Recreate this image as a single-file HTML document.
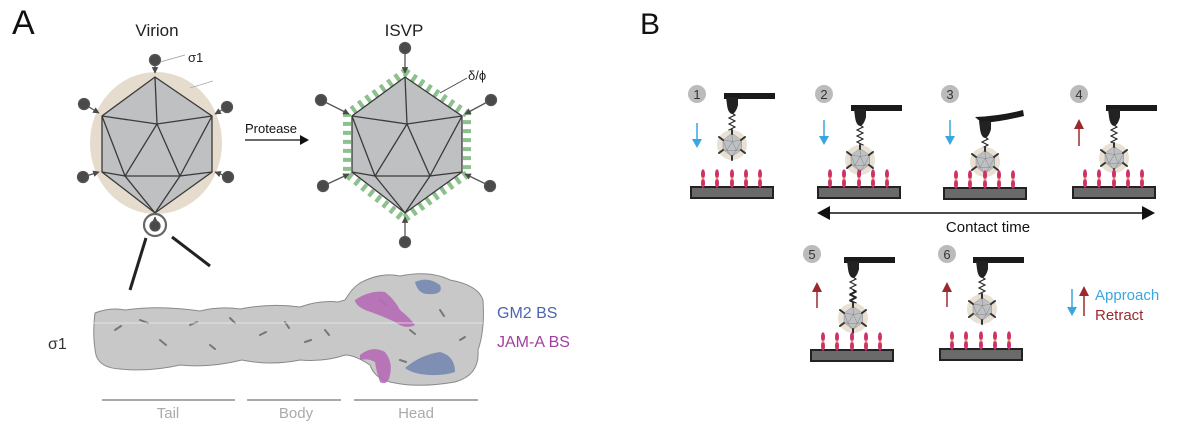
<!DOCTYPE html>
<html><head><meta charset="utf-8"><style>
html,body{margin:0;padding:0;background:#fff}
svg{display:block}
text{font-family:"Liberation Sans",sans-serif}
</style></head><body>
<svg width="1196" height="426" viewBox="0 0 1196 426" xmlns="http://www.w3.org/2000/svg">
<defs>
<marker id="ah" viewBox="0 0 10 10" refX="9" refY="5" markerWidth="5" markerHeight="5" orient="auto"><path d="M0,0L10,5L0,10z" fill="#4a4a4a"/></marker>
<g id="ico">
<polygon points="0,-68 57,-29 57,27 0,68 -53,27 -53,-29" fill="#bfc0c2" stroke="#3a3a3a" stroke-width="1.3"/>
<g stroke="#3a3a3a" stroke-width="1.3" fill="none">
<path d="M0,-68L2,-21M-53,-29L2,-21L57,-29M2,-21L-30,31L25,31L2,-21M-53,-29L-30,31M57,-29L25,31M-53,27L-30,31L0,68L25,31L57,27"/>
</g>
</g>
<g id="spikes">
<g stroke="#555" stroke-width="1.3" fill="#4a4a4a">
<line x1="0" y1="-97" x2="0" y2="-72" marker-end="url(#ah)"/>
<line x1="-84" y1="-45" x2="-56" y2="-31" marker-end="url(#ah)"/>
<line x1="86" y1="-45" x2="60" y2="-31" marker-end="url(#ah)"/>
<line x1="-82" y1="41" x2="-56" y2="29" marker-end="url(#ah)"/>
<line x1="85" y1="41" x2="60" y2="29" marker-end="url(#ah)"/>
<line x1="0" y1="97" x2="0" y2="72" marker-end="url(#ah)"/>
<circle cx="0" cy="-97" r="5.5"/><circle cx="-84" cy="-45" r="5.5"/><circle cx="86" cy="-45" r="5.5"/>
<circle cx="-82" cy="41" r="5.5"/><circle cx="85" cy="41" r="5.5"/><circle cx="0" cy="97" r="5.5"/>
</g>
</g>
<g id="vspikes">
<g stroke="#555" stroke-width="1.3" fill="#4a4a4a">
<line x1="0" y1="-85" x2="0" y2="-72" marker-end="url(#ah)"/>
<line x1="-71" y1="-41" x2="-56" y2="-32" marker-end="url(#ah)"/>
<line x1="72" y1="-38" x2="60" y2="-31" marker-end="url(#ah)"/>
<line x1="-72" y1="32" x2="-56" y2="27" marker-end="url(#ah)"/>
<line x1="73" y1="32" x2="60" y2="27" marker-end="url(#ah)"/>
<line x1="0" y1="81" x2="0" y2="72" marker-end="url(#ah)"/>
<circle cx="0" cy="-85" r="5.5"/><circle cx="-71" cy="-41" r="5.5"/><circle cx="72" cy="-38" r="5.5"/>
<circle cx="-72" cy="32" r="5.5"/><circle cx="73" cy="32" r="5.5"/><circle cx="0" cy="81" r="5"/>
</g>
</g>
<g id="sv">
<circle r="15" fill="#e8e0d2"/>
<g transform="scale(0.17)"><use href="#ico"/></g>
<g stroke="#333" stroke-width="2" stroke-linecap="round">
<path d="M0,-11L0,-15M9,-5L13,-8M9,5L13,8M-9,-5L-13,-8M-9,5L-13,8M0,11L0,15"/>
</g>
</g>
<g id="rec">
<ellipse cx="0" cy="4" rx="2" ry="4.8" fill="#d0306a"/>
<ellipse cx="0" cy="13" rx="2" ry="4.8" fill="#d0306a"/>
<circle cx="0" cy="8.5" r="1.2" fill="#e89a50"/>
</g>
<g id="surf">
<rect x="0" y="0" width="82" height="11" fill="#6a6a6a" stroke="#222" stroke-width="2"/>
<use href="#rec" x="12" y="-17"/><use href="#rec" x="26" y="-17"/><use href="#rec" x="41" y="-17"/><use href="#rec" x="55" y="-17"/><use href="#rec" x="69" y="-17"/>
</g>
<g id="tip">
<path d="M-6,0 L6,0 L6,8 Q4,16 0,17 Q-4,16 -5,8Z" fill="#222"/>
</g>
<g id="spring"><path d="M0,0 l3,2 l-6,3 l6,3 l-6,3 l6,3 l-6,3 l6,3 l-6,3 l6,3 l-6,3 l3,2" fill="none" stroke="#222" stroke-width="1.1"/></g>
</defs>

<!-- Panel A -->
<text x="12" y="34" font-size="34" fill="#111">A</text>
<text x="157" y="36" font-size="17" text-anchor="middle" fill="#222">Virion</text>
<text x="404" y="36" font-size="17" text-anchor="middle" fill="#222">ISVP</text>

<ellipse cx="156" cy="143" rx="66" ry="71" fill="#e5dccd"/>
<g transform="translate(155,145)"><use href="#ico"/><use href="#vspikes"/></g>
<circle cx="155" cy="225" r="11" fill="none" stroke="#666" stroke-width="2.2"/>
<line x1="146" y1="238" x2="130" y2="290" stroke="#222" stroke-width="3"/>
<line x1="172" y1="237" x2="210" y2="266" stroke="#222" stroke-width="3"/>
<line x1="160" y1="62" x2="185" y2="55" stroke="#999" stroke-width="0.8"/>
<line x1="190" y1="88" x2="213" y2="81" stroke="#aaa" stroke-width="0.8"/>
<text x="188" y="62" font-size="13" fill="#222">σ1</text>

<text x="245" y="133" font-size="13" fill="#111">Protease</text>
<line x1="245" y1="140" x2="302" y2="140" stroke="#111" stroke-width="1.2"/>
<path d="M300,135L309,140L300,145z" fill="#111"/>

<polygon points="405,72 467,114 467,174 404,219 347,174 347,114" fill="none" stroke="#8cc08c" stroke-width="8" stroke-dasharray="4 5"/>
<g transform="translate(405,145)"><use href="#ico"/><use href="#spikes"/></g>
<line x1="440" y1="93" x2="467" y2="78" stroke="#444" stroke-width="0.9"/>
<text x="468" y="80" font-size="13" fill="#222">δ/ϕ</text>

<!-- sigma1 protein -->
<g fill="#c8c8c8" stroke="#8a8a8a" stroke-width="1">
<path d="M95,313 Q110,307 125,310 Q160,305 200,311 Q220,306 240,309 Q270,303 300,307 Q320,300 338,302 L345,300 Q352,288 360,283 Q380,272 400,276 Q430,270 450,280 Q478,285 483,300 Q485,330 478,350 Q480,375 455,382 Q420,388 395,383 Q375,380 370,365 Q355,355 345,355 Q325,362 300,360 Q270,366 242,360 Q210,368 180,365 Q150,372 120,369 Q100,368 96,355 Q92,335 95,313Z"/>
</g>
<g stroke="#777" stroke-width="2" stroke-linecap="round" fill="none">
<path d="M115,330l6,-4M140,320l8,3M160,340l6,5M190,325l7,-3M210,345l5,4M230,318l5,5M260,335l6,-3M285,322l4,6M305,342l6,-2M325,330l4,5M380,300l6,5M410,330l5,4M440,310l4,6M460,340l5,-3M400,360l6,2"/>
</g>
<path d="M355,300 Q370,290 385,292 Q395,300 400,310 Q410,318 415,325 Q405,330 395,322 Q380,315 365,310 Q355,305 355,300Z" fill="#b56ab5" opacity="0.9"/>
<path d="M360,355 Q372,345 385,352 Q393,362 390,375 Q388,386 380,382 Q376,370 375,362 Q368,358 360,360Z" fill="#b56ab5" opacity="0.9"/>
<path d="M415,282 Q428,276 440,285 Q444,295 428,294 Q418,294 415,282Z" fill="#7f8fb3"/>
<path d="M405,368 Q420,355 440,352 Q455,356 455,372 Q440,377 420,374 Q410,372 405,368Z" fill="#7f8fb3"/>
<line x1="92" y1="323" x2="483" y2="323" stroke="#eee" stroke-width="0.8"/>

<text x="48" y="349" font-size="16" fill="#333">σ1</text>
<text x="497" y="318" font-size="16" fill="#4a66b0">GM2 BS</text>
<text x="497" y="347" font-size="16" fill="#a040a0">JAM-A BS</text>
<g stroke="#aaa" stroke-width="2">
<line x1="102" y1="400" x2="235" y2="400"/><line x1="247" y1="400" x2="341" y2="400"/><line x1="354" y1="400" x2="478" y2="400"/>
</g>
<g font-size="15" fill="#aaa" text-anchor="middle">
<text x="168" y="418">Tail</text><text x="296" y="418">Body</text><text x="416" y="418">Head</text>
</g>

<!-- Panel B -->
<text x="640" y="34" font-size="30" fill="#111">B</text>
<g font-size="13" text-anchor="middle" fill="#333">
<circle cx="697" cy="94" r="9" fill="#bbb"/><text x="697" y="99">1</text>
<circle cx="824" cy="94" r="9" fill="#bbb"/><text x="824" y="99">2</text>
<circle cx="950" cy="94" r="9" fill="#bbb"/><text x="950" y="99">3</text>
<circle cx="1079" cy="94" r="9" fill="#bbb"/><text x="1079" y="99">4</text>
<circle cx="812" cy="254" r="9" fill="#bbb"/><text x="812" y="259">5</text>
<circle cx="947" cy="254" r="9" fill="#bbb"/><text x="947" y="259">6</text>
</g>
<!-- step1 -->
<rect x="724" y="93" width="51" height="6" fill="#1a1a1a"/>
<use href="#tip" x="732" y="97"/><use href="#spring" x="732" y="113"/>
<use href="#sv" x="732" y="145"/>
<use href="#surf" x="691" y="187"/>
<!-- step2 -->
<rect x="851" y="105" width="51" height="6" fill="#1a1a1a"/>
<use href="#tip" x="860" y="109"/><use href="#spring" x="860" y="125"/>
<use href="#sv" x="860" y="160"/>
<use href="#surf" x="818" y="187"/>
<!-- step3 -->
<path d="M975,117 Q1000,116 1023,110 L1024,116 Q1000,122 982,123 Z" fill="#1a1a1a"/>
<use href="#tip" x="985" y="121"/><use href="#spring" x="985" y="137"/>
<use href="#sv" x="985" y="162"/>
<use href="#surf" x="944" y="188"/>
<!-- step4 -->
<rect x="1106" y="105" width="51" height="6" fill="#1a1a1a"/>
<use href="#tip" x="1114" y="109"/><use href="#spring" x="1114" y="125"/>
<use href="#sv" x="1114" y="158"/>
<use href="#surf" x="1073" y="187"/>
<!-- contact -->
<line x1="826" y1="213" x2="1146" y2="213" stroke="#111" stroke-width="1.5"/>
<path d="M817,213L830,206L830,220z" fill="#111"/><path d="M1155,213L1142,206L1142,220z" fill="#111"/>
<text x="988" y="232" font-size="15" text-anchor="middle" fill="#111">Contact time</text>
<!-- step5 -->
<rect x="844" y="257" width="51" height="6" fill="#1a1a1a"/>
<use href="#tip" x="853" y="261"/><use href="#spring" x="853" y="277"/><use href="#spring" x="853" y="290"/>
<use href="#sv" x="853" y="318"/>
<use href="#surf" x="811" y="350"/>
<!-- step6 -->
<rect x="973" y="257" width="51" height="6" fill="#1a1a1a"/>
<use href="#tip" x="982" y="261"/><use href="#spring" x="982" y="277"/>
<use href="#sv" x="982" y="309"/>
<use href="#surf" x="940" y="349"/>
<!-- arrows -->
<g stroke="#3aa6e0" stroke-width="1.5">
<line x1="697" y1="123" x2="697" y2="140"/><line x1="824" y1="120" x2="824" y2="137"/><line x1="950" y1="120" x2="950" y2="137"/><line x1="1072" y1="289" x2="1072" y2="308"/>
</g>
<g fill="#3aa6e0">
<path d="M692,139L702,139L697,148z"/><path d="M819,136L829,136L824,145z"/><path d="M945,136L955,136L950,145z"/><path d="M1067,307L1077,307L1072,316z"/>
</g>
<g stroke="#9a2a30" stroke-width="1.5">
<line x1="1079" y1="128" x2="1079" y2="146"/><line x1="817" y1="291" x2="817" y2="308"/><line x1="947" y1="291" x2="947" y2="307"/><line x1="1084" y1="295" x2="1084" y2="316"/>
</g>
<g fill="#9a2a30">
<path d="M1074,129L1084,129L1079,119z"/><path d="M812,292L822,292L817,282z"/><path d="M942,292L952,292L947,282z"/><path d="M1079,296L1089,296L1084,286z"/>
</g>
<text x="1095" y="300" font-size="15" fill="#3aa6e0">Approach</text>
<text x="1095" y="320" font-size="15" fill="#9a2a30">Retract</text>
</svg>
</body></html>
